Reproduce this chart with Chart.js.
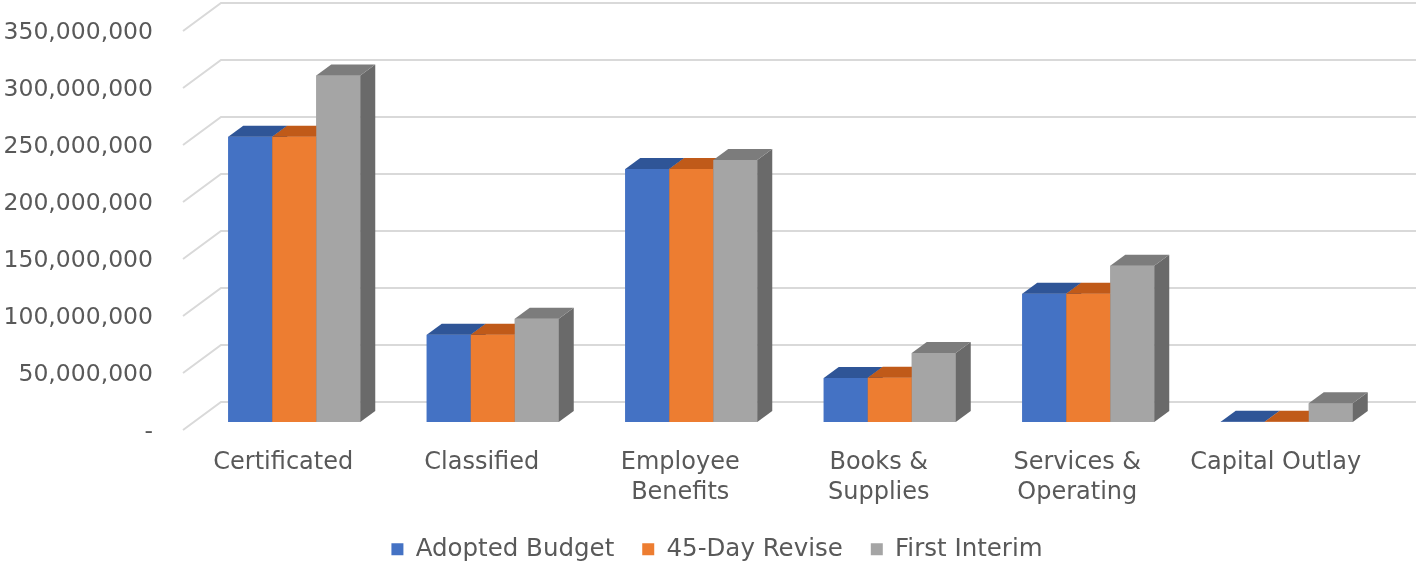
<!DOCTYPE html>
<html>
<head>
<meta charset="utf-8">
<script src="https://cdn.jsdelivr.net/npm/chart.js@4/dist/chart.umd.min.js"></script>
<style>
  html, body { margin: 0; padding: 0; background: #ffffff; }
  #wrap { width: 1416px; height: 563px; position: relative; }
</style>
</head>
<body>
<div id="wrap"><canvas id="budgetChart"></canvas></div>
<script>
const categories = ['Certificated', 'Classified', ['Employee', 'Benefits'], ['Books &', 'Supplies'], ['Services &', 'Operating'], 'Capital Outlay'];
const adoptedBudget = [250300000, 76500000, 222000000, 38500000, 112500000, 300000];
const dayRevise45 = [250300000, 76500000, 222000000, 38800000, 112500000, 300000];
const firstInterim = [304000000, 90500000, 229800000, 60500000, 137000000, 16500000];
const yTicks = [0, 50000000, 100000000, 150000000, 200000000, 250000000, 300000000, 350000000];

const textColor = '#595959';
const fontFamily = '"DejaVu Sans", sans-serif';

// fake 3D: depth of a bar, offset of the back wall and of the front floor edge
const BAR_DX = 15, BAR_DY = 11;
const BACK_DX = 26, BACK_DY = 20;
const FRONT_DX = -12, FRONT_DY = 8;
const LEGEND_SHIFT = 24; // legend sits a little right of centre in the original

const faceColors = [
  { top: '#2f5597', side: '#284a85' },
  { top: '#c05a19', side: '#a54f16' },
  { top: '#7c7c7c', side: '#6a6a6a' }
];

function drawFaces(ctx, bar, col) {
  const x1 = bar.x - bar.width / 2;
  const x2 = bar.x + bar.width / 2;
  const top = Math.min(bar.y, bar.base);
  const base = bar.base;
  ctx.fillStyle = col.side;
  ctx.beginPath();
  ctx.moveTo(x2, top);
  ctx.lineTo(x2 + BAR_DX, top - BAR_DY);
  ctx.lineTo(x2 + BAR_DX, base - BAR_DY);
  ctx.lineTo(x2, base);
  ctx.closePath();
  ctx.fill();
  ctx.fillStyle = col.top;
  ctx.beginPath();
  ctx.moveTo(x1, top);
  ctx.lineTo(x2, top);
  ctx.lineTo(x2 + BAR_DX, top - BAR_DY);
  ctx.lineTo(x1 + BAR_DX, top - BAR_DY);
  ctx.closePath();
  ctx.fill();
}

const threeD = {
  id: 'threeD',
  afterLayout(chart) {
    chart.legend.left += LEGEND_SHIFT;
    chart.legend.right += LEGEND_SHIFT;
  },
  beforeDatasetsDraw(chart) {
    const { ctx, chartArea, scales } = chart;
    ctx.save();
    ctx.strokeStyle = '#d9d9d9';
    ctx.lineWidth = 2;
    yTicks.forEach((v) => {
      const y = scales.y.getPixelForValue(v);
      ctx.beginPath();
      ctx.moveTo(chartArea.left + FRONT_DX, y + FRONT_DY);
      ctx.lineTo(chartArea.left + BACK_DX, y - BACK_DY);
      ctx.lineTo(chartArea.right + BACK_DX + 10, y - BACK_DY);
      ctx.stroke();
    });
    ctx.restore();
  },
  // repaint each group left to right so every side face is hidden by the next bar
  afterDatasetsDraw(chart) {
    const { ctx } = chart;
    const metas = chart.data.datasets.map((d, i) => chart.getDatasetMeta(i));
    ctx.save();
    categories.forEach((c, j) => {
      metas.forEach((meta, i) => {
        const bar = meta.data[j];
        bar.draw(ctx);
        drawFaces(ctx, bar, faceColors[i]);
      });
    });
    ctx.restore();
  }
};

new Chart(document.getElementById('budgetChart'), {
  type: 'bar',
  data: {
    labels: categories,
    datasets: [
      { label: 'Adopted Budget', data: adoptedBudget, backgroundColor: '#4472c4' },
      { label: '45-Day Revise', data: dayRevise45, backgroundColor: '#ed7d31' },
      { label: 'First Interim', data: firstInterim, backgroundColor: '#a5a5a5' }
    ]
  },
  options: {
    responsive: true,
    maintainAspectRatio: false,
    animation: false,
    layout: { padding: { top: 23, right: 30, left: 0, bottom: 0 } },
    datasets: {
      bar: { barPercentage: 1, categoryPercentage: 0.665, borderWidth: 0 }
    },
    scales: {
      x: {
        afterFit: (s) => { s.height = 87; },
        grid: { display: false, drawTicks: false },
        border: { display: false },
        ticks: {
          color: textColor,
          font: { family: fontFamily, size: 24, lineHeight: 1.25 },
          padding: 26,
          labelOffset: -11,
          maxRotation: 0,
          autoSkip: false
        }
      },
      y: {
        min: 0,
        max: 350000000,
        afterFit: (s) => { s.width = 195; },
        afterBuildTicks: (s) => { s.ticks = yTicks.map((v) => ({ value: v })); },
        grid: { display: false, drawTicks: true, tickLength: 42 },
        border: { display: false },
        ticks: {
          color: textColor,
          font: { family: fontFamily, size: 23.5 },
          padding: 0,
          labelOffset: 10,
          callback: (v) => (v === 0 ? '-' : v.toLocaleString('en-US'))
        }
      }
    },
    plugins: {
      legend: {
        position: 'bottom',
        maxHeight: 54,
        labels: {
          color: textColor,
          font: { family: fontFamily, size: 24.5 },
          boxWidth: 12,
          boxHeight: 12,
          padding: 28
        }
      },
      tooltip: { enabled: false }
    }
  },
  plugins: [threeD]
});
</script>
</body>
</html>
